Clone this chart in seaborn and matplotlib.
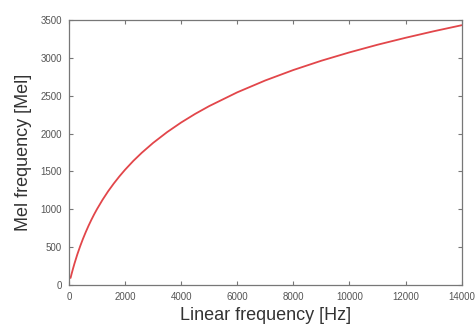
import matplotlib
matplotlib.use("Agg")
import matplotlib.pyplot as plt
import seaborn as sns
import pandas as pd

# Values
linear_hz = [60, 100, 150, 200, 300, 400, 500, 600, 700, 800, 900, 1000, 1200,
             1400, 1600, 1800, 2000, 2300, 2600, 3000, 3500, 4000, 4500, 5000,
             6000, 7000, 8000, 9000, 10000, 11000, 12000, 13000, 14000]
mel = [92, 150, 218, 283, 402, 509, 607, 697, 781, 859, 932, 1000, 1125,
       1238, 1340, 1434, 1521, 1640, 1747, 1876, 2019, 2146, 2260, 2363,
       2545, 2702, 2840, 2963, 3073, 3174, 3266, 3352, 3432]

x_ticks = [0, 2000, 4000, 6000, 8000, 10000, 12000, 14000]
y_ticks = [0, 500, 1000, 1500, 2000, 2500, 3000, 3500]

sns.set_theme(style="white")
plt.rcParams['font.family'] = ['Liberation Sans', 'DejaVu Sans']

df = pd.DataFrame({"Linear frequency [Hz]": linear_hz, "Mel frequency [Mel]": mel})

fig = plt.figure(figsize=(4.75, 3.29), dpi=100)
ax = fig.add_axes([0.145, 0.134, 0.827, 0.805])
sns.lineplot(data=df, x="Linear frequency [Hz]", y="Mel frequency [Mel]", ax=ax,
             color="#e2464a", linewidth=1.3)

ax.set_xlim(0, 14000)
ax.set_ylim(0, 3500)
ax.set_xticks(x_ticks)
ax.set_yticks(y_ticks)
ax.set_xticklabels([str(t) for t in x_ticks])
ax.set_yticklabels([str(t) for t in y_ticks])
ax.tick_params(direction="in", length=3, width=0.8, color="#777777",
               labelsize=7, labelcolor="#555555", top=True, right=True,
               bottom=True, left=True, pad=5)
for s in ax.spines.values():
    s.set_color("#777777")
    s.set_linewidth(0.9)
ax.set_xlabel("Linear frequency [Hz]", fontsize=13, color="#333333", labelpad=4)
ax.set_ylabel("Mel frequency [Mel]", fontsize=13, color="#333333", labelpad=6)

fig.savefig("out.png", dpi=100)
